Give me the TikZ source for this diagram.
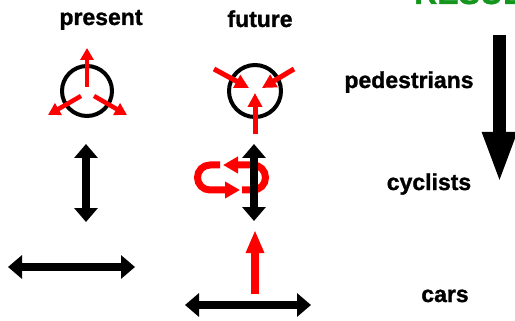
\documentclass[tikz,border=0pt]{standalone}
\usepackage{fontspec}
\setmainfont{Liberation Sans}[FakeBold=1.2]
\usetikzlibrary{arrows.meta}
\definecolor{headgreen}{RGB}{20,150,30}
\definecolor{flowred}{RGB}{255,0,0}
\tikzset{
  lbl/.style={font=\bfseries\fontsize{23}{26}\selectfont, anchor=base, inner sep=0pt},
  bigtwo/.style={line width=8.5pt, black,
    {Triangle[width=23pt,length=14pt]}-{Triangle[width=23pt,length=14pt]}},
  ring/.style={draw=black, line width=4pt},
  redthin/.style={line width=4.5pt, flowred, -{Triangle[width=13pt,length=12pt]}},
  redmid/.style={line width=5pt, flowred, -{Triangle[width=14pt,length=14pt]}},
  redthick/.style={line width=7pt, flowred, -{Triangle[width=16pt,length=15pt]}},
}
\begin{document}
\begin{tikzpicture}[x=1pt,y=-1pt]
\useasboundingbox (0,0) rectangle (515,321);
\clip (0,0) rectangle (515,321);

% heading, mostly above the frame
\node[font=\bfseries\fontsize{32}{36}\selectfont, text=headgreen, anchor=base west, inner sep=0pt] (head) at (414,4) {RESULTS};

% column titles and row labels
\node[lbl] (present) at (101,25) {present};
\node[lbl] (future) at (260,27) {future};
\node[lbl] (ped) at (409,88) {pedestrians};
\node[lbl] (cyc) at (429,190) {cyclists};
\node[lbl] (cars) at (445,302) {cars};

% priority arrow
\coordinate (pt) at (499.5,35);
\coordinate (pb) at (499.5,184);
\draw[line width=13pt, -{Triangle[width=31pt,length=52pt]}] (pt) -- (pb);

% present: pedestrians spread outwards
\node[ring, circle, minimum size=50pt, inner sep=0pt] (pring) at (87,91) {};
\coordinate (pu1) at (87,87);  \coordinate (pu2) at (87,48);
\coordinate (pl1) at (81,96);  \coordinate (pl2) at (48,115);
\coordinate (pr1) at (94,96);  \coordinate (pr2) at (127,115);
\draw[redthin] (pu1) -- (pu2);
\draw[redthin] (pl1) -- (pl2);
\draw[redthin] (pr1) -- (pr2);

% future: everything flows inwards
\node[ring, circle, minimum size=52pt, inner sep=0pt] (fring) at (255,91) {};
\coordinate (fl1) at (214,69);  \coordinate (fl2) at (249,88);
\coordinate (fr1) at (294,69);  \coordinate (fr2) at (262,88);
\coordinate (fb1) at (255,134); \coordinate (fb2) at (255,93);
\draw[redmid] (fl1) -- (fl2);
\draw[redmid] (fr1) -- (fr2);
\draw[redmid] (fb1) -- (fb2);

% future: cyclists turning loop (y axis points down, so angles run clockwise)
\coordinate (ua) at (220,165);
\coordinate (ub) at (240,190);
\coordinate (va) at (242,190);
\coordinate (vb) at (223,165);
\draw[redthick] (ua) -- (210,165) arc[start angle=-90, end angle=-270, radius=12.5] -- (ub);
\draw[redthick] (va) -- (253,190) arc[start angle=90, end angle=-90, radius=12.5] -- (vb);

% future: cars pushed upwards
\coordinate (cb) at (255,294);
\coordinate (ct) at (255,230);
\draw[line width=8pt, flowred, -{Triangle[width=17pt,length=23pt]}] (cb) -- (ct);

% two-way arrows
\coordinate (pvt) at (86,144);  \coordinate (pvb) at (86,222);
\draw[bigtwo] (pvt) -- (pvb);
\coordinate (phl) at (8,267);   \coordinate (phr) at (135,267);
\draw[bigtwo] (phl) -- (phr);
\coordinate (fvt) at (254,144); \coordinate (fvb) at (254,221);
\draw[bigtwo] (fvt) -- (fvb);
\coordinate (fhl) at (185,305); \coordinate (fhr) at (311,305);
\draw[bigtwo] (fhl) -- (fhr);
\end{tikzpicture}
\end{document}
